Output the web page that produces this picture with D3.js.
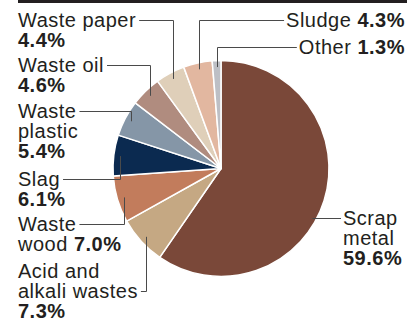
<!DOCTYPE html>
<html>
<head>
<meta charset="utf-8">
<script src="https://cdn.jsdelivr.net/npm/d3@7"></script>
<style>
body { margin: 0; background: #fff; }
svg { display: block; font-family: "Liberation Sans", Arial, Helvetica, sans-serif; }
</style>
</head>
<body>
<svg width="411" height="320"></svg>
<script>
var categories = ["Scrap metal", "Acid and alkali wastes", "Waste wood", "Slag", "Waste plastic", "Waste oil", "Waste paper", "Sludge", "Other"];
var shares = [59.6, 7.3, 7.0, 6.1, 5.4, 4.6, 4.4, 4.3, 1.3];
// label lines, {v} is the bold share
var labelLines = [
	["Scrap", "metal", "{v}"],
	["Acid and", "alkali wastes", "{v}"],
	["Waste", "wood {v}"],
	["Slag", "{v}"],
	["Waste", "plastic", "{v}"],
	["Waste oil", "{v}"],
	["Waste paper", "{v}"],
	["Sludge {v}"],
	["Other {v}"]
];

var colors = ["#7a4839", "#c5a883", "#c27c5c", "#0b2a50", "#8596a7", "#b08c7f", "#dfcfb9", "#e2b7a0", "#bdbfc5"];
// where each label sits: x, first baseline, anchor, line the leader hangs on
var labelPos = [
	{x: 343, y: 225, anchor: "start", line: 0},
	{x: 18, y: 278, anchor: "start", line: 1},
	{x: 18, y: 231, anchor: "start", line: 0},
	{x: 18, y: 186, anchor: "start", line: 0},
	{x: 18, y: 118, anchor: "start", line: 0},
	{x: 18, y: 72, anchor: "start", line: 0},
	{x: 18, y: 26.5, anchor: "start", line: 0},
	{x: 405, y: 26.5, anchor: "end", line: 0},
	{x: 405, y: 54, anchor: "end", line: 0}
];

var svg = d3.select("svg");
var cx = 221, cy = 168.5, r = 108,
	lineH = 20, ink = "#231f20";

svg.append("rect")
	.attr("x", 18).attr("y", 0)
	.attr("width", 389).attr("height", 3)
	.attr("fill", ink);

var pie = d3.pie().sort(null).value(d => d);
var arcs = pie(shares);
var arc = d3.arc().innerRadius(0).outerRadius(r);

var g = svg.append("g").attr("transform", "translate(" + cx + "," + cy + ")");
g.selectAll("path")
	.data(arcs)
	.enter().append("path")
	.attr("d", arc)
	.attr("fill", (d, i) => colors[i])
	.attr("stroke", "#fff")
	.attr("stroke-width", 1.5)
	.attr("stroke-linejoin", "round");

var labels = svg.append("g").attr("fill", ink).style("font-size", "20px").style("letter-spacing", "0.5px");
var leaders = svg.append("g").attr("fill", "none").attr("stroke", "#4a4a4a").attr("stroke-width", 1);

arcs.forEach(function(a, i) {
	var pos = labelPos[i];
	var val = d3.format(".1f")(shares[i]) + "%";
	var attached;
	labelLines[i].forEach(function(line, k) {
		var t = labels.append("text")
			.attr("x", pos.x)
			.attr("y", pos.y + k * lineH)
			.attr("text-anchor", pos.anchor);
		var parts = line.split("{v}");
		if (parts[0]) t.append("tspan").text(parts[0]);
		if (parts.length > 1) t.append("tspan").attr("font-weight", "bold").text(val);
		if (k == pos.line) attached = t;
	});

	var w = attached.node().getComputedTextLength();
	var ly = Math.round(pos.y + pos.line * lineH - 7) + 0.5;
	var mid = (a.startAngle + a.endAngle) / 2;
	var px, py;
	if (i == 0) {
		// scrap metal: straight line into the slice
		var dy = ly - cy;
		px = cx + Math.sqrt(Math.pow(r * 0.965, 2) - dy * dy);
		leaders.append("path").attr("d", "M" + (pos.x - 2) + "," + ly + "H" + px);
		return;
	}
	px = Math.round(cx + Math.sin(mid) * r * 0.94) + 0.5;
	py = cy - Math.cos(mid) * r * 0.94;
	var x0 = pos.anchor == "start" ? pos.x + w + 3 : pos.x - w - 2;
	leaders.append("path").attr("d", "M" + x0 + "," + ly + "H" + px + "V" + py);
});
</script>
</body>
</html>
